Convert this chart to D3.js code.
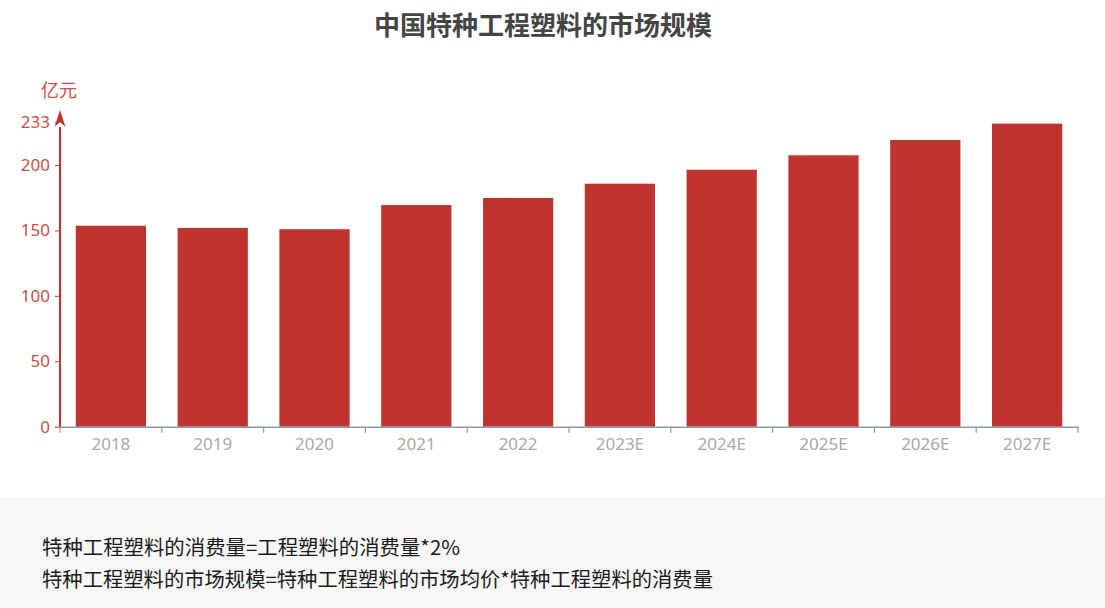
<!DOCTYPE html>
<html lang="zh">
<head>
<meta charset="utf-8">
<title>中国特种工程塑料的市场规模</title>
<script src="https://cdn.jsdelivr.net/npm/d3@7"></script>
<style>
  body { margin: 0; background: #fff; font-family: "Noto Sans CJK SC", "Noto Sans", sans-serif; }
</style>
</head>
<body>
<div id="chart"></div>
<script>
// 数据
var years = ["2018", "2019", "2020", "2021", "2022", "2023E", "2024E", "2025E", "2026E", "2027E"];
var values = [153.6, 151.9, 150.9, 169.4, 174.8, 185.7, 196.4, 207.4, 219.1, 231.6];
var yTicks = [0, 50, 100, 150, 200, 233];
var notes = [
  "特种工程塑料的消费量=工程塑料的消费量*2%",
  "特种工程塑料的市场规模=特种工程塑料的市场均价*特种工程塑料的消费量"
];

var w = 1105, h = 608;
var svg = d3.select("#chart").append("svg")
            .attr("width", w)
            .attr("height", h);

// 底部灰色注释区
svg.append("rect")
   .attr("x", 0).attr("y", 497)
   .attr("width", w).attr("height", h - 497)
   .attr("fill", "#f7f7f7");

svg.selectAll("text.note")
   .data(notes)
   .enter().append("text")
   .attr("class", "note")
   .attr("x", 42)
   .attr("y", function(d, i) { return 555 + i * 32; })
   .attr("font-size", 20)
   .attr("fill", "#1a1a1a")
   .attr("textLength", function(d, i) { return i === 0 ? 418 : 671; })
   .attr("lengthAdjust", "spacingAndGlyphs")
   .text(function(d) { return d; });

// 标题
svg.append("text")
   .attr("x", 543).attr("y", 35)
   .attr("text-anchor", "middle")
   .attr("font-size", 26)
   .attr("font-weight", "bold")
   .attr("fill", "#444")
   .text("中国特种工程塑料的市场规模");

// 比例尺
var x0 = 60, x1 = 1078, yBase = 426.7;
var xScale = d3.scaleBand()
               .domain(years)
               .range([x0, x1])
               .paddingInner(0.31)
               .paddingOuter(0.155);
var yScale = d3.scaleLinear()
               .domain([0, 233])
               .range([yBase, 121.8]);

// 柱子
svg.append("g")
   .selectAll("rect")
   .data(values)
   .enter().append("rect")
   .attr("x", function(d, i) { return xScale(years[i]); })
   .attr("y", function(d) { return yScale(d); })
   .attr("width", xScale.bandwidth())
   .attr("height", function(d) { return yBase - yScale(d); })
   .attr("fill", "#c0342f");

// x 轴
var xAxis = d3.axisBottom(xScale).tickSize(0).tickPadding(11);
var gx = svg.append("g")
   .attr("transform", "translate(0," + yBase + ")")
   .call(xAxis);
gx.select(".domain").attr("stroke", "#8c9aa6").attr("stroke-width", 1.5);
gx.selectAll("text")
  .attr("fill", "#a9a9a9")
  .attr("font-size", 17)
  .attr("font-family", "'Noto Sans', sans-serif");
// 类目分隔刻度
var step = xScale.step();
gx.selectAll("line.sep")
  .data(d3.range(years.length + 1))
  .enter().append("line")
  .attr("class", "sep")
  .attr("x1", function(i) { return x0 + i * step; })
  .attr("x2", function(i) { return x0 + i * step; })
  .attr("y1", 0).attr("y2", 6)
  .attr("stroke", "#8c9aa6")
  .attr("stroke-width", 1.2);

// y 轴
var yAxis = d3.axisLeft(yScale).tickValues(yTicks).tickSize(5).tickPadding(5);
var gy = svg.append("g")
   .attr("transform", "translate(" + x0 + ",0)")
   .call(yAxis);
gy.select(".domain").remove();
gy.selectAll(".tick line").attr("stroke", "#c0342f");
gy.selectAll("text")
  .attr("fill", "#c9504c")
  .attr("font-size", 17)
  .attr("font-family", "'Noto Sans', sans-serif");

// y 轴线 + 箭头
svg.append("defs").append("marker")
   .attr("id", "arrow")
   .attr("viewBox", "0 0 10 10")
   .attr("refX", 5).attr("refY", 10)
   .attr("markerWidth", 11).attr("markerHeight", 17)
   .attr("markerUnits", "userSpaceOnUse")
   .attr("orient", "0")
   .attr("preserveAspectRatio", "none")
   .append("path")
   .attr("d", "M0,10 L5,0 L10,10 L5,7 Z")
   .attr("fill", "#c0342f");
svg.append("line")
   .attr("x1", x0).attr("x2", x0)
   .attr("y1", yBase).attr("y2", 127)
   .attr("stroke", "#c0342f")
   .attr("stroke-width", 2)
   .attr("marker-end", "url(#arrow)");

svg.append("text")
   .attr("x", 41).attr("y", 97)
   .attr("font-size", 18)
   .attr("fill", "#c9504c")
   .text("亿元");
</script>
</body>
</html>
